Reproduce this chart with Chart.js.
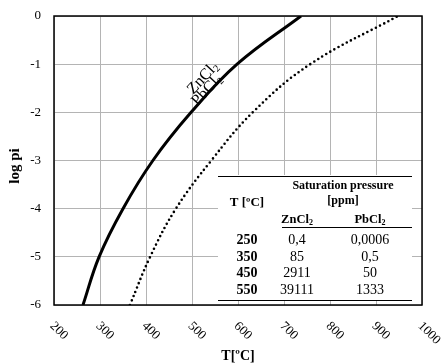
<!DOCTYPE html>
<html lang="en">
<head>
<meta charset="UTF-8" />
<title>Saturation pressure – log pi vs T</title>
<script src="https://cdn.jsdelivr.net/npm/chart.js@4.4.0/dist/chart.umd.min.js"></script>
<style>
  html, body { margin: 0; padding: 0; background: #fff; }
  canvas { display: block; }
</style>
</head>
<body>
<canvas id="chart" width="442" height="363"></canvas>
<script>
// Curves: temperature [ºC] against log pi
const zncl2Temp = [263, 298, 350, 415, 498, 598, 737];
const zncl2Log  = [-6, -5, -4, -3, -2, -1, 0];
const pbcl2Temp = [365, 409, 465, 542, 632, 757, 948];
const pbcl2Log  = [-6, -5, -4, -3, -2, -1, 0];

// Inset table
const tableTemps = ['250', '350', '450', '550'];
const tableZn    = ['0,4', '85', '2911', '39111'];
const tablePb    = ['0,0006', '0,5', '50', '1333'];

const SERIF = "'Liberation Serif', 'Times New Roman', serif";

const toPoints = (xs, ys) => xs.map((x, i) => ({ x, y: ys[i] }));

// draws e.g. ZnCl + subscript 2, aligned around (x, y)
function chem(ctx, base, sub, x, y, size, bold, align) {
  const w = bold ? 'bold ' : '';
  ctx.font = `${w}${size}px ${SERIF}`;
  const bw = ctx.measureText(base).width;
  ctx.font = `${w}${Math.round(size * 0.65)}px ${SERIF}`;
  const sw = ctx.measureText(sub).width;
  let x0 = x;
  if (align === 'center') x0 = x - (bw + sw) / 2;
  ctx.textAlign = 'left';
  ctx.font = `${w}${size}px ${SERIF}`;
  ctx.fillText(base, x0, y);
  ctx.font = `${w}${Math.round(size * 0.65)}px ${SERIF}`;
  ctx.fillText(sub, x0 + bw, y + size * 0.25);
}

const overlay = {
  id: 'overlay',
  afterDatasetsDraw(chart) {
    const { ctx } = chart;
    ctx.save();
    // table box
    const L = 218, R = 412, T = 176, B = 300;
    ctx.fillStyle = '#fff';
    ctx.fillRect(L, T - 1, R - L, B - T + 2);
    ctx.strokeStyle = '#000';
    ctx.lineWidth = 1;
    ctx.beginPath();
    ctx.moveTo(L, T + 0.5); ctx.lineTo(R, T + 0.5);
    ctx.moveTo(282, 227.5); ctx.lineTo(R, 227.5);
    ctx.moveTo(L, B + 0.5); ctx.lineTo(R, B + 0.5);
    ctx.stroke();

    ctx.fillStyle = '#000';
    ctx.textBaseline = 'middle';
    ctx.textAlign = 'center';
    ctx.font = `bold 12px ${SERIF}`;
    ctx.fillText('Saturation pressure', 343, 186);
    ctx.fillText('[ppm]', 343, 201);
    ctx.font = `bold 13px ${SERIF}`;
    ctx.fillText('T [ºC]', 247, 203);
    chem(ctx, 'ZnCl', '2', 297, 220, 12.5, true, 'center');
    chem(ctx, 'PbCl', '2', 370, 220, 12.5, true, 'center');

    const rowY = [240, 257, 273, 290];
    tableTemps.forEach((t, i) => {
      ctx.textAlign = 'center';
      ctx.font = `bold 14px ${SERIF}`;
      ctx.fillText(t, 247, rowY[i]);
      ctx.font = `14px ${SERIF}`;
      ctx.fillText(tableZn[i], 297, rowY[i]);
      ctx.fillText(tablePb[i], 370, rowY[i]);
    });
    ctx.restore();
  },
  afterDraw(chart) {
    const { ctx, chartArea: a, scales } = chart;
    ctx.save();
    // plot frame
    ctx.strokeStyle = '#000';
    ctx.lineWidth = 1.5;
    ctx.strokeRect(a.left, a.top, a.right - a.left, a.bottom - a.top);

    // x tick labels, turned 45º clockwise
    ctx.fillStyle = '#000';
    ctx.font = `13px ${SERIF}`;
    ctx.textAlign = 'left';
    ctx.textBaseline = 'middle';
    scales.x.ticks.forEach(t => {
      const px = scales.x.getPixelForValue(t.value);
      ctx.save();
      ctx.translate(px - 2, 324);
      ctx.rotate(Math.PI / 4);
      ctx.fillText(String(t.value), 0, 0);
      ctx.restore();
    });

    // axis titles
    ctx.textAlign = 'center';
    ctx.font = `bold 14px ${SERIF}`;
    ctx.fillText('T[ºC]', (a.left + a.right) / 2, 356);
    ctx.save();
    ctx.translate(15, 166);
    ctx.rotate(-Math.PI / 2);
    ctx.font = `bold 15px ${SERIF}`;
    ctx.fillText('log pi', 0, 0);
    ctx.restore();

    // curve labels
    [['ZnCl', 203, 78], ['PbCl', 207, 90]].forEach(([name, x, y]) => {
      ctx.save();
      ctx.translate(x, y);
      ctx.rotate(-47 * Math.PI / 180);
      chem(ctx, name, '2', 0, 0, 16, false, 'center');
      ctx.restore();
    });
    ctx.restore();
  }
};

new Chart(document.getElementById('chart'), {
  type: 'scatter',
  data: {
    datasets: [
      {
        label: 'ZnCl2',
        data: toPoints(zncl2Temp, zncl2Log),
        showLine: true,
        borderColor: '#000',
        borderWidth: 3,
        pointRadius: 0,
        tension: 0.4,
      },
      {
        label: 'PbCl2',
        data: toPoints(pbcl2Temp, pbcl2Log),
        showLine: true,
        borderColor: '#000',
        borderWidth: 2.6,
        borderDash: [0, 4.7],
        borderCapStyle: 'round',
        pointRadius: 0,
        tension: 0.4,
      },
    ],
  },
  options: {
    responsive: false,
    animation: false,
    events: [],
    layout: { padding: { top: 16, right: 20, left: 0, bottom: 0 } },
    plugins: { legend: { display: false }, tooltip: { enabled: false } },
    scales: {
      x: {
        type: 'linear', min: 200, max: 1000,
        ticks: { stepSize: 100, display: false },
        grid: { color: '#b4b4b4', lineWidth: 1, drawTicks: false },
        border: { display: false },
        afterFit: s => { s.height = 58; },
      },
      y: {
        min: -6, max: 0,
        ticks: { stepSize: 1, padding: 13, color: '#000', font: { family: SERIF, size: 13 } },
        grid: { color: '#b4b4b4', lineWidth: 1, drawTicks: false },
        border: { display: false },
        // the tick padding would otherwise push the plot top down
        afterFit: s => { s.width = 54; s.paddingTop = 0; s.paddingBottom = 0; },
      },
    },
  },
  plugins: [overlay],
});
</script>
</body>
</html>
